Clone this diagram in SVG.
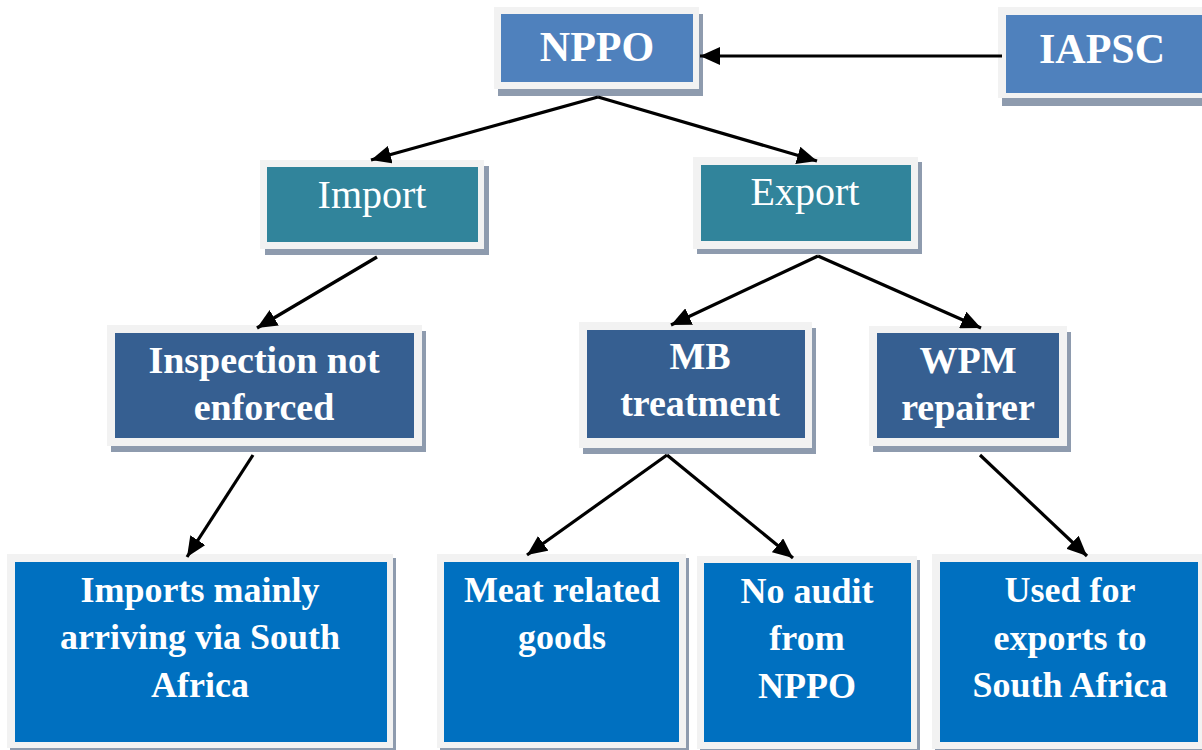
<svg xmlns="http://www.w3.org/2000/svg" width="1202" height="750" viewBox="0 0 1202 750">
<defs>
<marker id="ah" markerUnits="userSpaceOnUse" markerWidth="20" markerHeight="18" viewBox="0 0 20 18" refX="20" refY="9" orient="auto">
<path d="M0,0 L20,9 L0,18 z" fill="#000"/>
</marker>
<style>
.sh{fill:#8e9bae}
.fr{fill:#f2f2f2}
.top{fill:#4f81bd}
.teal{fill:#31849b}
.mid{fill:#365f91}
.bot{fill:#0070c0}
text{font-family:"Liberation Serif","Times New Roman",serif;fill:#fff;text-anchor:middle;font-size:38px;font-weight:bold}
.big{font-size:42px}
.reg{font-weight:normal;font-size:40px}
.sm{font-size:36px}
.conn path{stroke:#000;stroke-width:3.2;fill:none;marker-end:url(#ah)}
</style>
</defs>
<rect width="1202" height="750" fill="#fff"/>

<g id="nppo">
<rect class="sh" x="498" y="14" width="205" height="82"/>
<rect class="fr" x="494" y="7" width="205" height="82"/>
<rect class="top" x="501" y="14" width="192" height="68"/>
<text class="big" x="597" y="61">NPPO</text>
</g>
<g id="iapsc">
<rect class="sh" x="1002" y="15" width="210" height="91"/>
<rect class="fr" x="998" y="7" width="210" height="91"/>
<rect class="top" x="1006" y="15" width="200" height="78"/>
<text class="big" x="1102" y="63">IAPSC</text>
</g>
<g id="import">
<rect class="sh" x="265" y="166" width="224" height="89"/>
<rect class="fr" x="260" y="160" width="224" height="89"/>
<rect class="teal" x="267" y="167" width="211" height="75"/>
<text class="reg" x="372" y="208">Import</text>
</g>
<g id="export">
<rect class="sh" x="697" y="162" width="225" height="92"/>
<rect class="fr" x="693" y="157" width="225" height="92"/>
<rect class="teal" x="701" y="165" width="210" height="76"/>
<text class="reg" x="805" y="205">Export</text>
</g>
<g id="inspection">
<rect class="sh" x="111" y="331" width="315" height="121"/>
<rect class="fr" x="107" y="325" width="315" height="121"/>
<rect class="mid" x="115" y="333" width="299" height="105"/>
<text x="264" y="373">Inspection not</text>
<text x="264" y="420">enforced</text>
</g>
<g id="mb">
<rect class="sh" x="583" y="328" width="233" height="126"/>
<rect class="fr" x="579" y="322" width="233" height="126"/>
<rect class="mid" x="587" y="330" width="218" height="108"/>
<text x="700" y="369">MB</text>
<text x="700" y="416">treatment</text>
</g>
<g id="wpm">
<rect class="sh" x="873" y="332" width="198" height="120"/>
<rect class="fr" x="869" y="326" width="198" height="120"/>
<rect class="mid" x="877" y="333" width="182" height="105"/>
<text x="968" y="373">WPM</text>
<text x="968" y="420">repairer</text>
</g>
<g id="imports">
<rect class="sh" x="10" y="558" width="386" height="194"/>
<rect class="fr" x="7" y="554" width="386" height="194"/>
<rect class="bot" x="15" y="562" width="372" height="180"/>
<text class="sm" x="200" y="602">Imports mainly</text>
<text class="sm" x="200" y="649">arriving via South</text>
<text class="sm" x="200" y="697">Africa</text>
</g>
<g id="meat">
<rect class="sh" x="440" y="558" width="249" height="194"/>
<rect class="fr" x="437" y="554" width="249" height="194"/>
<rect class="bot" x="444" y="562" width="235" height="180"/>
<text class="sm" x="562" y="602">Meat related</text>
<text class="sm" x="562" y="649">goods</text>
</g>
<g id="noaudit">
<rect class="sh" x="700" y="560" width="220" height="193"/>
<rect class="fr" x="697" y="556" width="220" height="193"/>
<rect class="bot" x="704" y="563" width="207" height="179"/>
<text class="sm" x="807" y="603">No audit</text>
<text class="sm" x="807" y="650">from</text>
<text class="sm" x="807" y="698">NPPO</text>
</g>
<g id="usedfor">
<rect class="sh" x="935" y="558" width="270" height="195"/>
<rect class="fr" x="932" y="554" width="270" height="195"/>
<rect class="bot" x="940" y="562" width="258" height="180"/>
<text class="sm" x="1070" y="602">Used for</text>
<text class="sm" x="1070" y="650">exports to</text>
<text class="sm" x="1070" y="697">South Africa</text>
</g>

<g id="connectors" class="conn">
<path d="M1002,56 L700,56"/>
<path d="M598,97 L371,160"/>
<path d="M598,97 L817,161"/>
<path d="M377,257 L257,328"/>
<path d="M818,256 L671,325"/>
<path d="M818,256 L981,328"/>
<path d="M253,455 L187,557"/>
<path d="M667,455 L527,555"/>
<path d="M667,455 L793,558"/>
<path d="M980,455 L1087,556"/>
</g>
</svg>
